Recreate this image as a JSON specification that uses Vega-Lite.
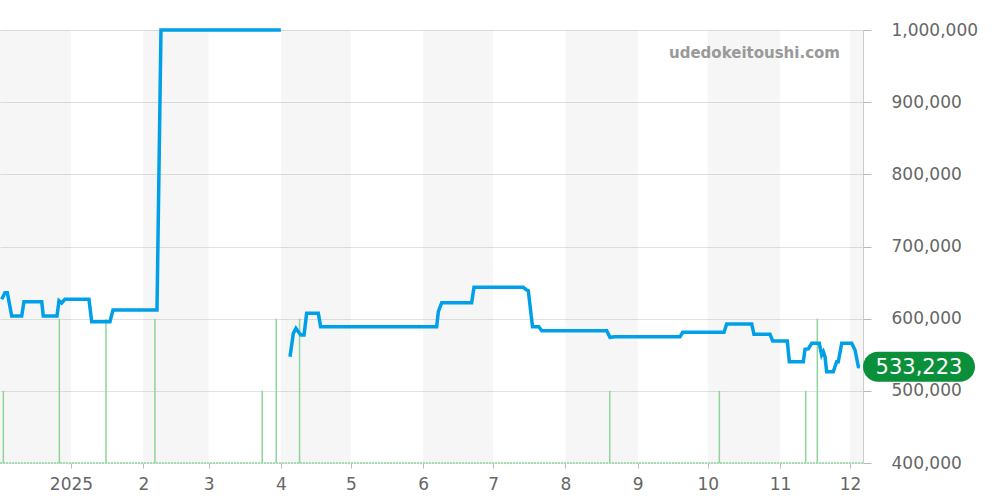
{
  "$schema": "https://vega.github.io/schema/vega-lite/v6.json",
  "width": 863,
  "height": 433,
  "autosize": {"type": "none"},
  "padding": {"left": 0, "top": 30, "right": 137, "bottom": 37},
  "config": {
    "view": {"stroke": null},
    "font": "DejaVu Sans",
    "axisX": {
      "title": null,
      "tickCount": {"interval": "month", "step": 1},
      "labelExpr": "month(datum.value) == 0 ? timeFormat(datum.value, '%Y') : timeFormat(datum.value, '%-m')",
      "labelFontSize": 17,
      "labelColor": "#666666",
      "labelFlush": false,
      "labelOverlap": false,
      "labelPadding": 8,
      "tickColor": "#bbbbbb",
      "tickSize": 5,
      "domain": false,
      "grid": false
    }
  },
  "datasets": {
    "bands": [
      {"date": "2024-11-30T00:00", "end": "2025-01-01T00:00"},
      {"date": "2025-02-01T00:00", "end": "2025-03-01T00:00"},
      {"date": "2025-04-01T00:00", "end": "2025-05-01T00:00"},
      {"date": "2025-06-01T00:00", "end": "2025-07-01T00:00"},
      {"date": "2025-08-01T00:00", "end": "2025-09-01T00:00"},
      {"date": "2025-10-01T00:00", "end": "2025-11-01T00:00"},
      {"date": "2025-12-01T00:00", "end": "2025-12-31T00:00"}
    ],
    "volume": [
      {"date": "2024-12-03T00:00", "vol": 1},
      {"date": "2024-12-27T00:00", "vol": 2},
      {"date": "2025-01-16T00:00", "vol": 2},
      {"date": "2025-02-06T00:00", "vol": 2},
      {"date": "2025-03-24T00:00", "vol": 1},
      {"date": "2025-03-30T00:00", "vol": 2},
      {"date": "2025-04-09T00:00", "vol": 2},
      {"date": "2025-08-20T00:00", "vol": 1},
      {"date": "2025-10-06T00:00", "vol": 1},
      {"date": "2025-11-12T00:00", "vol": 1},
      {"date": "2025-11-17T00:00", "vol": 2}
    ],
    "price": [
      {"date": "2024-12-02T07:00", "price": 626800, "seg": 1},
      {"date": "2024-12-03T17:00", "price": 636000, "seg": 1},
      {"date": "2024-12-04T17:00", "price": 636000, "seg": 1},
      {"date": "2024-12-06T14:00", "price": 603700, "seg": 1},
      {"date": "2024-12-10T21:00", "price": 603700, "seg": 1},
      {"date": "2024-12-11T20:00", "price": 623500, "seg": 1},
      {"date": "2024-12-19T11:00", "price": 623500, "seg": 1},
      {"date": "2024-12-20T03:00", "price": 603700, "seg": 1},
      {"date": "2024-12-26T00:00", "price": 603700, "seg": 1},
      {"date": "2024-12-26T21:00", "price": 624900, "seg": 1},
      {"date": "2024-12-28T00:00", "price": 621700, "seg": 1},
      {"date": "2024-12-29T10:00", "price": 626800, "seg": 1},
      {"date": "2025-01-08T17:00", "price": 626800, "seg": 1},
      {"date": "2025-01-09T21:00", "price": 595800, "seg": 1},
      {"date": "2025-01-17T17:00", "price": 595800, "seg": 1},
      {"date": "2025-01-19T00:00", "price": 612000, "seg": 1},
      {"date": "2025-02-06T21:00", "price": 612000, "seg": 1},
      {"date": "2025-02-08T14:00", "price": 1000000, "seg": 1},
      {"date": "2025-04-01T00:00", "price": 1000000, "seg": 1},
      {"date": "2025-04-04T22:00", "price": 547300, "seg": 2},
      {"date": "2025-04-06T08:00", "price": 579700, "seg": 2},
      {"date": "2025-04-07T11:00", "price": 586600, "seg": 2},
      {"date": "2025-04-09T12:00", "price": 577400, "seg": 2},
      {"date": "2025-04-10T22:00", "price": 577400, "seg": 2},
      {"date": "2025-04-12T01:00", "price": 607400, "seg": 2},
      {"date": "2025-04-17T01:00", "price": 607400, "seg": 2},
      {"date": "2025-04-18T01:00", "price": 588900, "seg": 2},
      {"date": "2025-06-06T19:00", "price": 588900, "seg": 2},
      {"date": "2025-06-07T12:00", "price": 609700, "seg": 2},
      {"date": "2025-06-08T23:00", "price": 622100, "seg": 2},
      {"date": "2025-06-21T19:00", "price": 622100, "seg": 2},
      {"date": "2025-06-22T19:00", "price": 643500, "seg": 2},
      {"date": "2025-07-13T22:00", "price": 643500, "seg": 2},
      {"date": "2025-07-15T09:00", "price": 639700, "seg": 2},
      {"date": "2025-07-16T02:00", "price": 638800, "seg": 2},
      {"date": "2025-07-17T21:00", "price": 588900, "seg": 2},
      {"date": "2025-07-20T14:00", "price": 588900, "seg": 2},
      {"date": "2025-07-21T20:00", "price": 583300, "seg": 2},
      {"date": "2025-08-18T17:00", "price": 583300, "seg": 2},
      {"date": "2025-08-20T02:00", "price": 574200, "seg": 2},
      {"date": "2025-08-22T06:00", "price": 575000, "seg": 2},
      {"date": "2025-09-19T03:00", "price": 575000, "seg": 2},
      {"date": "2025-09-20T07:00", "price": 581100, "seg": 2},
      {"date": "2025-10-08T00:00", "price": 581100, "seg": 2},
      {"date": "2025-10-09T03:00", "price": 592600, "seg": 2},
      {"date": "2025-10-19T21:00", "price": 592600, "seg": 2},
      {"date": "2025-10-20T20:00", "price": 578400, "seg": 2},
      {"date": "2025-10-27T17:00", "price": 578400, "seg": 2},
      {"date": "2025-10-28T21:00", "price": 569000, "seg": 2},
      {"date": "2025-11-04T03:00", "price": 569000, "seg": 2},
      {"date": "2025-11-05T00:00", "price": 540400, "seg": 2},
      {"date": "2025-11-11T00:00", "price": 540400, "seg": 2},
      {"date": "2025-11-11T17:00", "price": 557500, "seg": 2},
      {"date": "2025-11-13T03:00", "price": 558000, "seg": 2},
      {"date": "2025-11-14T14:00", "price": 565900, "seg": 2},
      {"date": "2025-11-17T20:00", "price": 565900, "seg": 2},
      {"date": "2025-11-18T21:00", "price": 549600, "seg": 2},
      {"date": "2025-11-19T14:00", "price": 554200, "seg": 2},
      {"date": "2025-11-20T07:00", "price": 547300, "seg": 2},
      {"date": "2025-11-21T00:00", "price": 526500, "seg": 2},
      {"date": "2025-11-23T20:00", "price": 526500, "seg": 2},
      {"date": "2025-11-25T07:00", "price": 540400, "seg": 2},
      {"date": "2025-11-26T00:00", "price": 540400, "seg": 2},
      {"date": "2025-11-27T11:00", "price": 565900, "seg": 2},
      {"date": "2025-12-01T18:00", "price": 565900, "seg": 2},
      {"date": "2025-12-03T04:00", "price": 556600, "seg": 2},
      {"date": "2025-12-04T14:00", "price": 533500, "seg": 2},
      {"date": "2025-12-05T07:00", "price": 533223, "seg": 2}
    ],
    "last": [
      {"date": "2025-12-05T07:00", "price": 533223}
    ],
    "mark": [
      {"date": "2025-11-26T17:00", "price": 961000, "label": "udedokeitoushi.com"}
    ]
  },
  "layer": [
    {
      "data": {"name": "bands"},
      "mark": {"type": "rect", "fill": "#000000", "fillOpacity": 0.037, "clip": true},
      "encoding": {
        "x": {
          "field": "date", "type": "temporal",
          "scale": {"domain": ["2024-12-01T13:30", "2025-12-06T14:00"]}
        },
        "x2": {"field": "end"}
      }
    },
    {
      "data": {"name": "volume"},
      "layer": [
        {
          "mark": {"type": "rule", "color": "#a6dcb0", "strokeWidth": 1.5, "strokeDash": [2, 1]},
          "encoding": {"y": {"datum": 0, "type": "quantitative", "scale": {"domain": [0, 6], "nice": false}, "axis": null}}
        },
        {
          "mark": {"type": "rule", "color": "#8fd49c", "strokeWidth": 1.5},
          "encoding": {
            "x": {"field": "date", "type": "temporal", "scale": {"domain": ["2024-12-01T13:30", "2025-12-06T14:00"]}},
            "y": {"field": "vol", "type": "quantitative", "scale": {"domain": [0, 6], "nice": false}, "axis": null},
            "y2": {"datum": 0}
          }
        }
      ]
    },
    {
      "encoding": {
        "x": {"field": "date", "type": "temporal", "scale": {"domain": ["2024-12-01T13:30", "2025-12-06T14:00"]}},
        "y": {
          "field": "price", "type": "quantitative",
          "scale": {"domain": [400000, 1000000], "nice": false, "zero": false},
          "axis": {
            "orient": "right",
            "title": null,
            "values": [400000, 500000, 600000, 700000, 800000, 900000, 1000000],
            "format": ",d",
            "labelFontSize": 17,
            "labelColor": "#666666",
            "labelPadding": 20,
            "tickSize": 8,
            "tickColor": "#bbbbbb",
            "domainColor": "#cccccc",
            "gridColor": "#e2e2e2",
            "grid": true
          }
        }
      },
      "layer": [
        {
          "data": {"name": "price"},
          "mark": {"type": "line", "color": "#00a0e8", "strokeWidth": 3.5},
          "encoding": {"detail": {"field": "seg", "type": "nominal"}}
        },
        {
          "data": {"name": "last"},
          "mark": {
            "type": "point", "filled": true, "color": "#0a8f3a", "opacity": 1, "size": 12544, "xOffset": 59,
            "shape": "M -0.732 -0.268 L 0.732 -0.268 A 0.268 0.268 0 0 1 0.732 0.268 L -0.732 0.268 A 0.268 0.268 0 0 1 -0.732 -0.268 Z"
          }
        },
        {
          "data": {"name": "last"},
          "mark": {"type": "text", "color": "#ffffff", "fontSize": 21, "align": "center", "baseline": "middle", "xOffset": 59, "yOffset": 1},
          "encoding": {"text": {"field": "price", "type": "quantitative", "format": ",d"}}
        },
        {
          "data": {"name": "mark"},
          "mark": {"type": "text", "color": "#999999", "fontSize": 15, "fontWeight": "bold", "align": "right", "baseline": "alphabetic"},
          "encoding": {
            "text": {"field": "label", "type": "nominal"}
          }
        }
      ]
    }
  ],
  "resolve": {"scale": {"y": "independent"}}
}
